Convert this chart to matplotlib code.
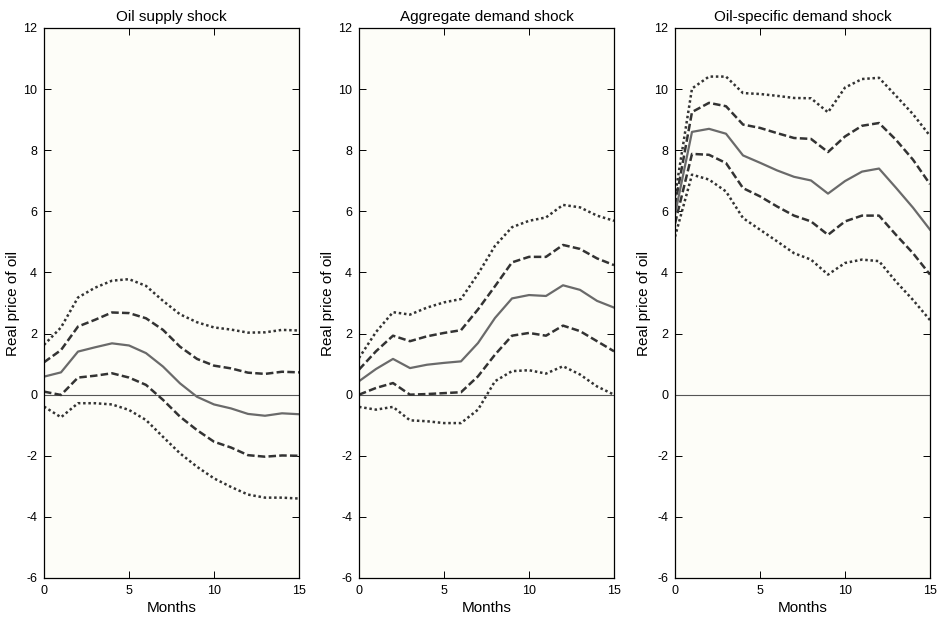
import matplotlib
matplotlib.use('Agg')
import matplotlib.pyplot as plt
import numpy as np

plt.rcParams['font.family'] = ['Liberation Sans', 'DejaVu Sans']
plt.rcParams['axes.unicode_minus'] = False

months = np.arange(16)
titles = ['Oil supply shock', 'Aggregate demand shock', 'Oil-specific demand shock']

# Oil supply shock
supply_mid = [0.59, 0.73, 1.41, 1.55, 1.68, 1.61, 1.36, 0.92, 0.37, -0.07, -0.32, -0.45, -0.63, -0.69, -0.61, -0.64]
supply_hi1 = [1.06, 1.46, 2.23, 2.45, 2.69, 2.67, 2.50, 2.12, 1.57, 1.17, 0.95, 0.86, 0.72, 0.68, 0.75, 0.73]
supply_lo1 = [0.10, -0.01, 0.56, 0.62, 0.70, 0.56, 0.32, -0.17, -0.72, -1.16, -1.54, -1.73, -1.98, -2.03, -1.99, -2.00]
supply_hi2 = [1.63, 2.20, 3.18, 3.50, 3.73, 3.78, 3.56, 3.07, 2.63, 2.37, 2.20, 2.13, 2.03, 2.04, 2.12, 2.10]
supply_lo2 = [-0.39, -0.74, -0.28, -0.28, -0.32, -0.50, -0.83, -1.38, -1.92, -2.36, -2.74, -3.02, -3.27, -3.37, -3.37, -3.40]

# Aggregate demand shock
agg_mid = [0.44, 0.84, 1.17, 0.87, 0.98, 1.04, 1.09, 1.69, 2.51, 3.15, 3.26, 3.23, 3.58, 3.43, 3.07, 2.85]
agg_hi1 = [0.82, 1.42, 1.93, 1.75, 1.91, 2.02, 2.11, 2.79, 3.55, 4.33, 4.51, 4.51, 4.90, 4.77, 4.46, 4.24]
agg_lo1 = [0.00, 0.22, 0.38, 0.00, 0.02, 0.05, 0.08, 0.60, 1.31, 1.93, 2.02, 1.93, 2.26, 2.08, 1.75, 1.42]
agg_hi2 = [1.20, 2.05, 2.70, 2.62, 2.85, 3.02, 3.13, 3.95, 4.87, 5.48, 5.69, 5.80, 6.21, 6.13, 5.86, 5.69]
agg_lo2 = [-0.40, -0.49, -0.40, -0.84, -0.87, -0.93, -0.93, -0.49, 0.44, 0.77, 0.80, 0.69, 0.93, 0.66, 0.27, 0.00]

# Oil-specific demand shock
spec_mid = [5.90, 8.60, 8.70, 8.54, 7.83, 7.59, 7.34, 7.13, 7.01, 6.58, 6.99, 7.30, 7.40, 6.77, 6.12, 5.40]
spec_hi1 = [6.20, 9.25, 9.55, 9.44, 8.84, 8.73, 8.56, 8.40, 8.37, 7.94, 8.45, 8.80, 8.89, 8.34, 7.69, 6.89]
spec_lo1 = [5.60, 7.88, 7.85, 7.58, 6.76, 6.49, 6.16, 5.86, 5.67, 5.23, 5.67, 5.86, 5.86, 5.23, 4.63, 3.93]
spec_hi2 = [6.50, 10.02, 10.41, 10.41, 9.87, 9.84, 9.78, 9.71, 9.70, 9.24, 10.05, 10.33, 10.37, 9.78, 9.18, 8.47]
spec_lo2 = [5.17, 7.20, 7.04, 6.65, 5.78, 5.40, 5.02, 4.63, 4.42, 3.93, 4.31, 4.42, 4.37, 3.70, 3.10, 2.44]

panels = [
    (supply_mid, supply_hi1, supply_lo1, supply_hi2, supply_lo2),
    (agg_mid, agg_hi1, agg_lo1, agg_hi2, agg_lo2),
    (spec_mid, spec_hi1, spec_lo1, spec_hi2, spec_lo2),
]

fig = plt.figure(figsize=(9.4, 6.18), dpi=100)
lefts = [44/940, 359/940, 675/940]
w = 255/940
b = 40/618
h = 550/618

for i, (mid, hi1, lo1, hi2, lo2) in enumerate(panels):
    ax = fig.add_axes([lefts[i], b, w, h])
    ax.set_facecolor('#fdfdf8')
    ax.axhline(0, color='#555555', linewidth=0.8)
    ax.plot(months, hi2, color='#333333', linewidth=1.8, linestyle=(0, (1, 1.1)))
    ax.plot(months, lo2, color='#333333', linewidth=1.8, linestyle=(0, (1, 1.1)))
    ax.plot(months, hi1, color='#333333', linewidth=1.8, linestyle=(0, (3, 1.3)))
    ax.plot(months, lo1, color='#333333', linewidth=1.8, linestyle=(0, (3, 1.3)))
    ax.plot(months, mid, color='#6a6a6a', linewidth=1.6, linestyle='-')
    ax.set_xlim(0, 15)
    ax.set_ylim(-6, 12)
    ax.set_xticks([0, 5, 10, 15])
    ax.set_yticks(np.arange(-6, 13, 2))
    ax.tick_params(direction='in', top=True, right=True, length=5, width=0.7,
                   labelsize=9, pad=5)
    for s in ax.spines.values():
        s.set_linewidth(0.9)
    ax.set_title(titles[i], fontsize=11, pad=5)
    ax.set_xlabel('Months', fontsize=11, labelpad=3)
    ax.set_ylabel('Real price of oil', fontsize=11, labelpad=2)

plt.savefig('out.png', dpi=100)
